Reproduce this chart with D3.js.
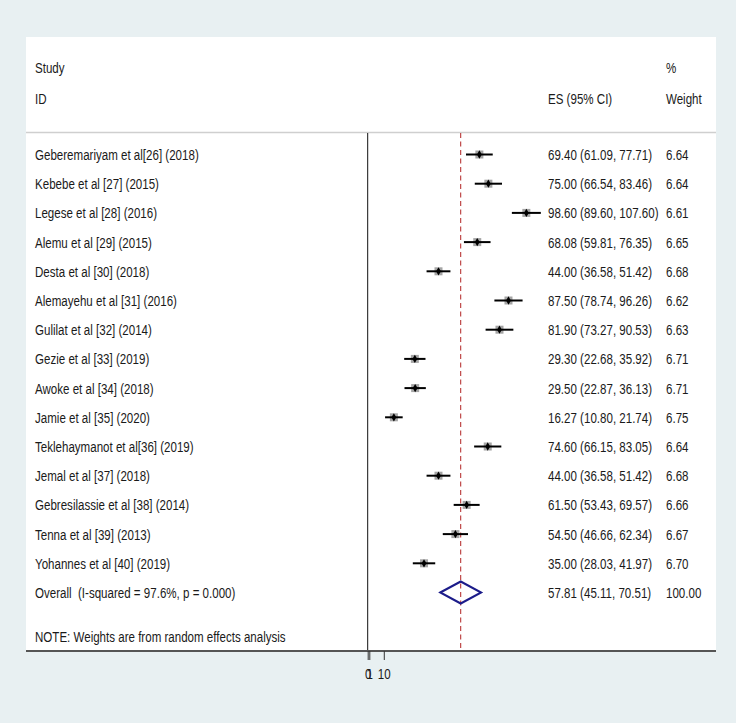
<!DOCTYPE html>
<html><head><meta charset="utf-8">
<script src="https://cdn.jsdelivr.net/npm/d3@7"></script>
<style>
html,body{margin:0;padding:0;background:#fff;}
svg text{font-family:"Liberation Sans Narrow","Arial Narrow","Liberation Sans",Arial,sans-serif;font-size:15px;fill:#1a1a1a;white-space:pre;}
</style></head>
<body>
<svg id="c" width="738" height="725"></svg>
<script>
const studies = ["Geberemariyam et al[26] (2018)","Kebebe et al [27] (2015)","Legese et al [28] (2016)","Alemu et al [29] (2015)","Desta et al [30] (2018)","Alemayehu et al [31] (2016)","Gulilat et al [32] (2014)","Gezie et al [33] (2019)","Awoke et al [34] (2018)","Jamie et al [35] (2020)","Teklehaymanot et al[36] (2019)","Jemal et al [37] (2018)","Gebresilassie et al [38] (2014)","Tenna et al [39] (2013)","Yohannes et al [40] (2019)"];
const es    = [69.40,75.00,98.60,68.08,44.00,87.50,81.90,29.30,29.50,16.27,74.60,44.00,61.50,54.50,35.00];
const lower = [61.09,66.54,89.60,59.81,36.58,78.74,73.27,22.68,22.87,10.80,66.15,36.58,53.43,46.66,28.03];
const upper = [77.71,83.46,107.60,76.35,51.42,96.26,90.53,35.92,36.13,21.74,83.05,51.42,69.57,62.34,41.97];
const weights = [6.64,6.64,6.61,6.65,6.68,6.62,6.63,6.71,6.71,6.75,6.64,6.68,6.66,6.67,6.70];
const overall = {label:"Overall  (I-squared = 97.6%, p = 0.000)", es:57.81, lo:45.11, hi:70.51, w:"100.00"};
const note = "NOTE: Weights are from random effects analysis";
const tickValues = [0, 1, 10];
const tickLabels = ["0", "1", "10"];

const svg = d3.select("#c");
svg.append("rect").attr("x",0).attr("y",0).attr("width",736).attr("height",723).attr("fill","#e8f0f2");
svg.append("rect").attr("x",26).attr("y",37).attr("width",690).attr("height",614).attr("fill","#fff");

const x = d3.scaleLinear().domain([0,100]).range([367.7, 528.6]);
const y = d3.scaleLinear().domain([0, 15]).range([154.5, 592.5]);

svg.append("line").attr("x1",26).attr("x2",716).attr("y1",132.5).attr("y2",132.5).attr("stroke","#cfcfcf").attr("stroke-width",1.5);

svg.append("line").attr("x1",x(0)).attr("x2",x(0)).attr("y1",133).attr("y2",650).attr("stroke","#111").attr("stroke-width",1);
svg.append("line").attr("x1",x(overall.es)).attr("x2",x(overall.es)).attr("y1",133).attr("y2",650)
  .attr("stroke","#b22222").attr("stroke-width",1).attr("stroke-dasharray","5,3.5");

const texts = [];
function txt(s, tx, ty, anchor){
  const t = svg.append("text").attr("transform",`translate(${tx},${ty})`).attr("text-anchor",anchor||"start").text(s);
  t.datum({tx,ty}); texts.push(t); return t;
}
txt("Study",35,72.5); txt("ID",35,103.5);
txt("%",666,72.5); txt("Weight",666,103.5);
txt("ES (95% CI)",548,103.5);

studies.forEach((s,i)=>{
  const yy = y(i);
  txt(s,35,yy+5.5);
  txt(`${es[i].toFixed(2)} (${lower[i].toFixed(2)}, ${upper[i].toFixed(2)})`,548,yy+5.5);
  txt(weights[i].toFixed(2),666,yy+5.5);
  const bs = 8;
  svg.append("rect").attr("x",x(es[i])-bs/2).attr("y",yy-bs/2).attr("width",bs).attr("height",bs).attr("fill","#8e8e8e").attr("opacity",0.8);
  svg.append("line").attr("x1",x(lower[i])).attr("x2",x(upper[i])).attr("y1",yy).attr("y2",yy).attr("stroke","#000").attr("stroke-width",2);
  svg.append("path").attr("d",d3.symbol(d3.symbolDiamond,20)()).attr("transform",`translate(${x(es[i])},${yy})`).attr("fill","#000");
});

const oy = y(15);
txt(overall.label,35,oy+5);
txt(`${overall.es.toFixed(2)} (${overall.lo.toFixed(2)}, ${overall.hi.toFixed(2)})`,548,oy+5);
txt(overall.w,666,oy+5);
svg.append("path").attr("d",`M${x(overall.lo)},${oy} L${x(overall.es)},${oy-11} L${x(overall.hi)},${oy} L${x(overall.es)},${oy+11} Z`)
  .attr("fill","none").attr("stroke","#1c1c8a").attr("stroke-width",2);

txt(note,35,641.5);

svg.append("line").attr("x1",26).attr("x2",716).attr("y1",651).attr("y2",651).attr("stroke","#555").attr("stroke-width",2);
const axis = d3.axisBottom(x).tickValues(tickValues).tickFormat((d,i)=>tickLabels[i]).tickSize(9).tickSizeOuter(0);
const ag = svg.append("g").attr("transform","translate(0,651)").call(axis);
ag.select(".domain").remove();
ag.selectAll(".tick line").attr("stroke","#333");
ag.selectAll(".tick text").attr("y",null).attr("dy",null).attr("transform","translate(0,28)")
  .style("font-family",'"Liberation Sans Narrow","Arial Narrow","Liberation Sans",Arial,sans-serif').style("font-size","15px").attr("fill","#1a1a1a");

const noteNode = texts[texts.length-1].node();
const len = noteNode.getComputedTextLength();
const sx = Math.min(1, 251/len);
texts.forEach(t=>{
  const d = t.datum();
  t.attr("transform",`translate(${d.tx},${d.ty}) scale(${sx},1)`);
});
ag.selectAll(".tick text").attr("transform",`translate(0,28) scale(${sx},1)`);
</script>
</body></html>
